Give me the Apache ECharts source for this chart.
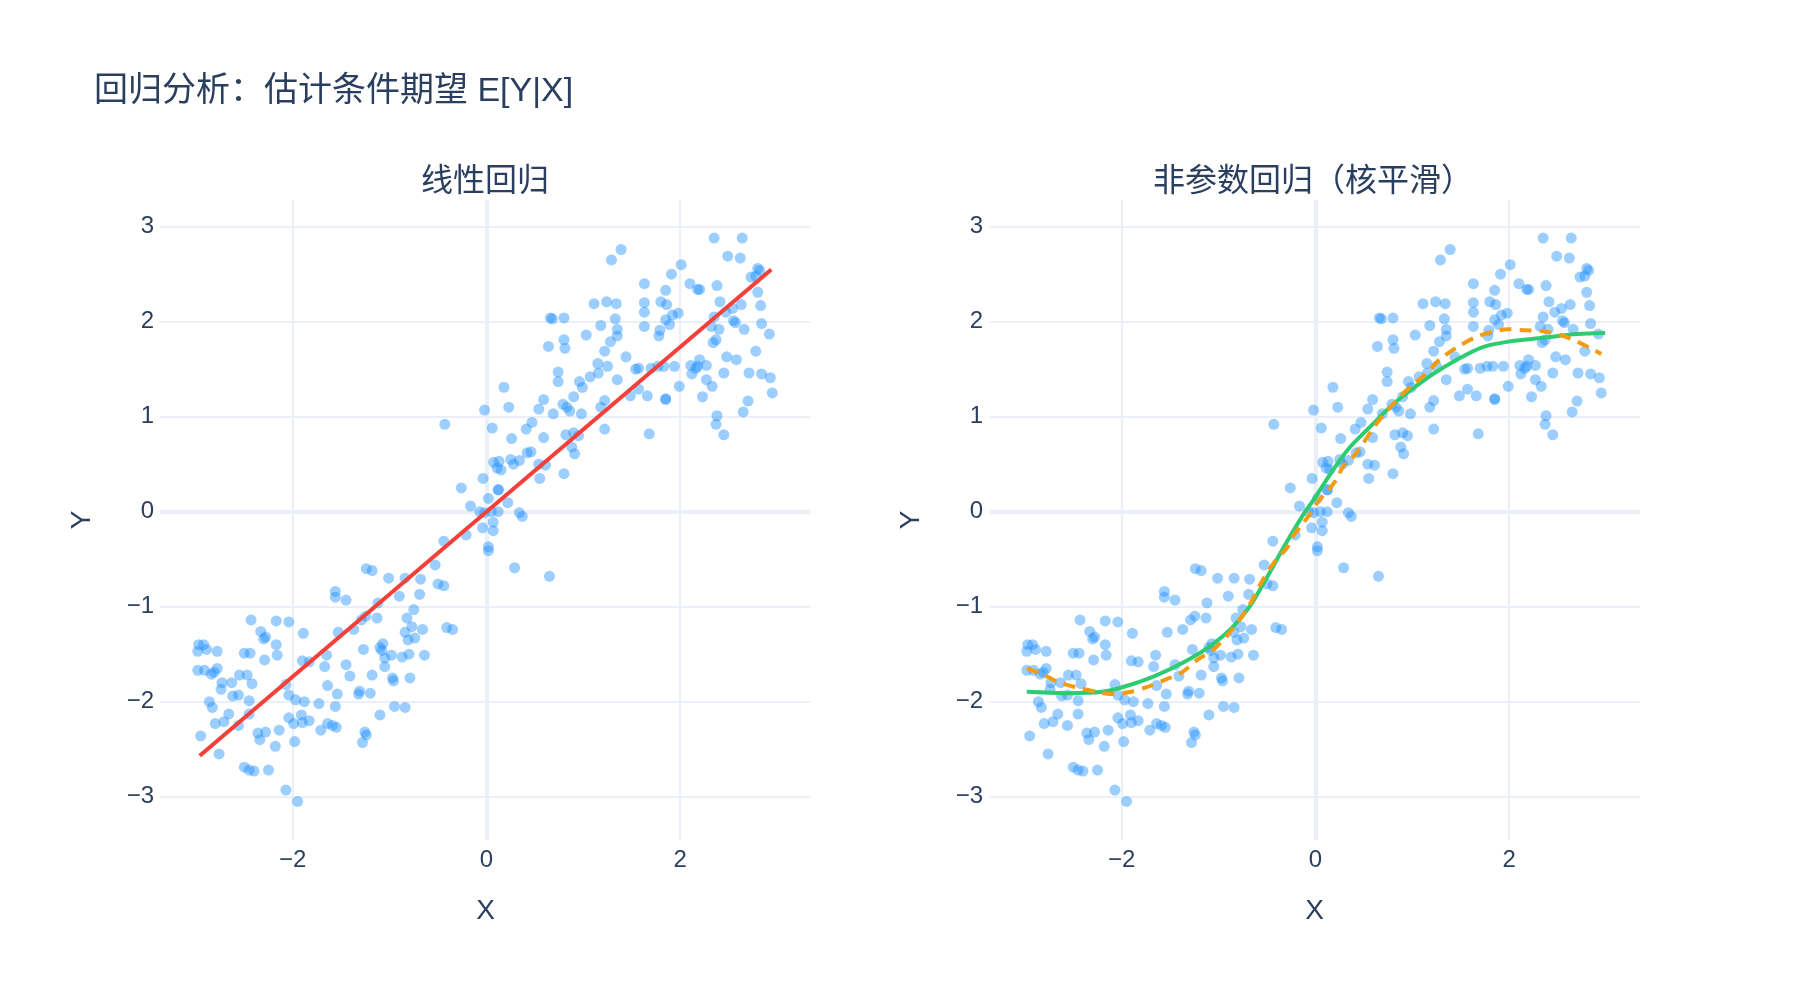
<!DOCTYPE html>
<html>
<head>
<meta charset="utf-8">
<title>回归分析</title>
<script src="https://cdn.jsdelivr.net/npm/echarts@6.0.0/dist/echarts.min.js"></script>
<style>
  html, body { margin: 0; padding: 0; background: #fff; }
  #chart { width: 1800px; height: 1000px; }
</style>
</head>
<body>
<div id="chart"></div>
<script>
// 样本点 (X, Y)，按区域从图上读出
const sampleX = [
  // x < -1.5
  -1.56,-1.56,-2.43,-2.17,-2.04,-1.89,-2.33,-2.30,-2.28,-2.17,
  -2.16,-2.29,-2.97,-2.92,-2.98,-2.89,-2.78,-2.50,-2.44,-1.90,
  -1.83,-1.65,-1.53,-2.98,-2.91,-2.84,-2.81,-2.78,-2.73,-2.74,
  -2.63,-2.55,-2.47,-2.42,-2.62,-2.56,-2.45,-2.86,-2.83,-2.07,
  -2.04,-1.97,-1.88,-1.73,-1.67,-1.64,-1.56,-1.54,-2.80,-2.71,
  -2.66,-2.56,-2.45,-2.95,-2.76,-2.36,-2.34,-2.28,-2.14,-2.18,
  -2.04,-1.99,-1.91,-1.90,-1.83,-1.98,-1.71,-1.64,-1.59,-1.55,
  -2.50,-2.45,-2.40,-2.25,-2.07,-1.95,
  // -1.5 .. 0
  -0.43,-0.26,-0.165,-0.21,-0.44,-0.53,-0.50,-0.44,-0.68,-0.69,
  -0.84,-0.90,-1.01,-1.24,-1.18,-1.45,-1.12,-0.75,-0.82,-1.13,
  -1.245,-1.29,-1.37,-0.77,-0.66,-0.84,-0.41,-0.35,-0.74,-0.81,
  -1.07,-1.10,-1.08,-0.98,-1.05,-1.27,-0.87,-0.80,-0.64,-1.45,
  -1.05,-1.18,-1.41,-0.97,-0.96,-0.79,-1.32,-1.31,-1.20,-0.95,
  -0.84,-1.10,-1.255,-1.24,-1.28,
  // 0 .. 1.4
  1.11,1.24,1.34,0.66,0.68,0.80,1.18,1.33,1.35,1.03,
  0.64,0.80,0.81,1.28,1.22,1.35,1.15,1.155,1.25,1.35,
  0.74,0.74,0.96,0.99,1.07,0.90,0.18,0.59,-0.02,0.23,
  0.54,0.69,0.79,0.83,0.86,0.98,1.22,1.18,0.06,0.47,
  0.41,0.26,0.59,0.82,0.90,0.95,1.22,0.88,0.91,0.075,
  0.13,0.11,0.15,0.25,0.28,0.34,0.42,0.46,0.54,0.61,
  0.55,0.80,-0.035,0.12,0.125,0.02,0.22,-0.07,-0.02,0.05,
  0.12,0.34,0.37,-0.04,0.07,0.07,0.02,0.02,0.29,0.65,
  // x > 1.4
  1.39,1.29,2.35,2.64,2.49,2.62,2.01,1.91,2.80,2.82,
  2.73,2.78,1.63,1.85,2.10,2.18,2.20,2.38,2.80,1.63,
  1.63,1.80,1.86,2.41,2.63,2.83,2.54,2.47,1.98,1.92,
  1.85,1.89,1.79,1.78,1.63,2.35,2.32,2.40,2.55,2.57,
  2.66,2.84,2.92,2.37,2.34,2.78,1.44,1.54,1.57,1.70,
  1.77,1.83,1.94,2.11,2.16,2.18,2.27,2.20,2.48,2.58,
  2.12,2.45,2.71,2.84,2.93,1.57,1.485,1.66,1.85,1.85,
  1.99,2.23,2.27,2.33,2.95,2.70,2.65,2.38,2.37,2.45,
  1.68
];
const sampleY = [
  -0.84,-0.90,-1.14,-1.15,-1.16,-1.28,-1.26,-1.34,-1.32,-1.40,
  -1.51,-1.56,-1.40,-1.40,-1.47,-1.45,-1.47,-1.49,-1.49,-1.57,
  -1.58,-1.51,-1.27,-1.67,-1.67,-1.71,-1.69,-1.65,-1.80,-1.87,
  -1.80,-1.72,-1.72,-1.81,-1.94,-1.93,-1.99,-2.00,-2.06,-1.82,
  -1.93,-1.98,-2.00,-2.02,-1.63,-1.83,-2.05,-1.92,-2.23,-2.21,
  -2.13,-2.25,-2.13,-2.36,-2.55,-2.33,-2.40,-2.32,-2.30,-2.47,
  -2.17,-2.23,-2.14,-2.22,-2.20,-2.42,-2.30,-2.23,-2.25,-2.27,
  -2.69,-2.72,-2.73,-2.72,-2.93,-3.05,

  0.92,0.25,0.06,-0.245,-0.31,-0.56,-0.76,-0.78,-0.71,-0.87,
  -0.70,-0.89,-0.70,-0.60,-0.62,-0.93,-0.96,-1.03,-1.12,-1.12,
  -1.10,-1.14,-1.24,-1.21,-1.24,-1.27,-1.22,-1.24,-1.33,-1.35,
  -1.39,-1.43,-1.46,-1.51,-1.54,-1.45,-1.53,-1.50,-1.51,-1.61,
  -1.63,-1.72,-1.73,-1.75,-1.78,-1.75,-1.92,-1.89,-1.91,-2.05,
  -2.06,-2.14,-2.32,-2.35,-2.43,

  2.19,2.21,2.19,2.04,2.03,2.04,1.96,2.03,1.92,1.86,
  1.74,1.81,1.72,1.79,1.69,1.85,1.56,1.46,1.53,1.39,
  1.47,1.37,1.37,1.31,1.42,1.21,1.31,1.18,1.07,1.10,
  1.08,1.03,1.13,1.10,1.06,1.03,1.17,1.10,0.88,0.94,
  0.87,0.77,0.78,0.81,0.83,0.80,0.87,0.68,0.61,0.52,
  0.53,0.46,0.44,0.55,0.50,0.54,0.62,0.63,0.50,0.49,
  0.35,0.40,0.35,0.23,0.23,0.14,0.095,0.0,-0.01,0.0,
  0.0,-0.01,-0.05,-0.17,-0.11,-0.20,-0.37,-0.41,-0.59,-0.68,

  2.76,2.65,2.88,2.88,2.69,2.67,2.60,2.50,2.56,2.54,
  2.47,2.48,2.40,2.33,2.40,2.34,2.34,2.38,2.31,2.20,
  2.10,2.21,2.18,2.21,2.18,2.17,2.14,2.10,2.09,2.07,
  2.02,1.97,1.91,1.85,1.95,2.05,1.95,1.92,2.01,1.99,
  1.92,1.98,1.87,1.81,1.78,1.69,1.63,1.50,1.51,1.51,
  1.53,1.53,1.53,1.54,1.51,1.53,1.54,1.60,1.63,1.60,
  1.45,1.46,1.46,1.45,1.41,1.29,1.22,1.22,1.19,1.18,
  1.32,1.21,1.39,1.32,1.25,1.165,1.05,1.01,0.92,0.81,
  0.82
];

// 线性回归拟合线
const linearX = [-2.96, 2.94];
const linearY = [-2.57, 2.55];

// 核平滑（较宽带宽，实线）
const smoothX = [-2.98,-2.55,-2.20,-1.97,-1.66,-1.35,-1.08,-0.86,-0.68,-0.50,-0.325,-0.15,
                 0.01,0.165,0.34,0.57,0.79,1.01,1.23,1.46,1.72,1.99,2.35,2.70,2.99];
const smoothY = [-1.895,-1.91,-1.895,-1.84,-1.73,-1.58,-1.41,-1.22,-1.00,-0.69,-0.37,-0.07,
                 0.17,0.415,0.66,0.90,1.12,1.30,1.46,1.60,1.73,1.79,1.83,1.87,1.88];

// 核平滑（较窄带宽，虚线）
const kernelX = [-2.98,-2.82,-2.64,-2.46,-2.24,-2.11,-1.93,-1.75,-1.53,-1.39,-1.22,-1.04,-0.86,-0.68,
                 -0.55,-0.41,-0.30,-0.24,-0.15,-0.06,0.03,0.12,0.21,0.30,0.39,0.48,0.61,0.74,
                 0.88,1.01,1.15,1.28,1.46,1.64,1.81,1.99,2.17,2.35,2.53,2.70,2.86,2.95];
const kernelY = [-1.65,-1.71,-1.80,-1.85,-1.90,-1.92,-1.90,-1.85,-1.76,-1.70,-1.56,-1.44,-1.24,-0.98,
                 -0.73,-0.51,-0.39,-0.27,-0.15,-0.03,0.11,0.21,0.33,0.50,0.58,0.70,0.90,1.06,
                 1.22,1.34,1.46,1.60,1.73,1.83,1.89,1.92,1.91,1.90,1.86,1.79,1.71,1.66];

const xTicks = [-2, 0, 2];
const yTicks = [-3, -2, -1, 0, 1, 2, 3];

const textColor = '#2a3f5f';
const gridColor = '#EBF0F8';
const fontFamily = '"Liberation Sans", "Noto Sans CJK SC", sans-serif';

const zip = (xs, ys) => xs.map((x, i) => [x, ys[i]]);
const fmt = v => (v < 0 ? '\u2212' + Math.abs(v) : String(v));

const chart = echarts.init(document.getElementById('chart'));

const xAxisFor = (gridIndex) => ({
    type: 'value',
    gridIndex: gridIndex,
    min: -3.37,
    max: 3.35,
    name: 'X',
    nameLocation: 'middle',
    nameGap: 57,
    nameTextStyle: { fontSize: 28, color: textColor, fontFamily: fontFamily },
    axisLine: { show: false },
    axisTick: { show: false, customValues: xTicks },
    axisLabel: { customValues: xTicks, fontSize: 24, color: textColor, margin: 8, fontFamily: fontFamily, formatter: fmt },
    splitLine: { show: true, lineStyle: { color: gridColor, width: 2 } }
});

const yAxisFor = (gridIndex) => ({
    type: 'value',
    gridIndex: gridIndex,
    min: -3.456,
    max: 3.281,
    name: 'Y',
    nameLocation: 'middle',
    nameGap: 64,
    nameTextStyle: { fontSize: 28, color: textColor, fontFamily: fontFamily },
    axisLine: { show: false },
    axisTick: { show: false, customValues: yTicks },
    axisLabel: { customValues: yTicks, fontSize: 24, color: textColor, margin: 6, fontFamily: fontFamily, formatter: fmt },
    splitLine: { show: true, lineStyle: { color: gridColor, width: 2 } }
});

// 零线（比网格线粗）
const zeroLines = {
    silent: true,
    symbol: 'none',
    z: 1,
    label: { show: false },
    lineStyle: { color: gridColor, width: 4, type: 'solid' },
    emphasis: { disabled: true },
    data: [{ xAxis: 0 }, { yAxis: 0 }]
};

const scatterStyle = { color: 'rgba(30,144,255,0.55)' };

const option = {
    animation: false,
    backgroundColor: '#fff',
    title: [
        {
            text: '回归分析：估计条件期望 E[Y|X]',
            left: 89,
            top: 70,
            textStyle: { fontSize: 34, fontWeight: 'normal', color: textColor, fontFamily: fontFamily }
        },
        {
            text: '线性回归',
            left: 480,
            top: 161,
            textAlign: 'center',
            textStyle: { fontSize: 32, fontWeight: 'normal', color: textColor, fontFamily: fontFamily }
        },
        {
            text: '非参数回归（核平滑）',
            left: 1308,
            top: 161,
            textAlign: 'center',
            textStyle: { fontSize: 32, fontWeight: 'normal', color: textColor, fontFamily: fontFamily }
        }
    ],
    grid: [
        { left: 160, top: 200, width: 651, height: 640 },
        { left: 989, top: 200, width: 651, height: 640 }
    ],
    xAxis: [xAxisFor(0), xAxisFor(1)],
    yAxis: [yAxisFor(0), yAxisFor(1)],
    series: [
        {
            type: 'scatter',
            xAxisIndex: 0,
            yAxisIndex: 0,
            symbolSize: 11,
            itemStyle: scatterStyle,
            data: zip(sampleX, sampleY),
            markLine: zeroLines
        },
        {
            type: 'line',
            xAxisIndex: 0,
            yAxisIndex: 0,
            showSymbol: false,
            lineStyle: { color: '#f5403a', width: 4 },
            data: zip(linearX, linearY)
        },
        {
            type: 'scatter',
            xAxisIndex: 1,
            yAxisIndex: 1,
            symbolSize: 11,
            itemStyle: scatterStyle,
            data: zip(sampleX, sampleY),
            markLine: zeroLines
        },
        {
            type: 'line',
            xAxisIndex: 1,
            yAxisIndex: 1,
            showSymbol: false,
            smooth: 0.3,
            lineStyle: { color: '#2ecc71', width: 4 },
            data: zip(smoothX, smoothY)
        },
        {
            type: 'line',
            xAxisIndex: 1,
            yAxisIndex: 1,
            showSymbol: false,
            smooth: 0.3,
            lineStyle: { color: '#f39c12', width: 4, type: [12, 8] },
            data: zip(kernelX, kernelY)
        }
    ]
};

chart.setOption(option);
</script>
</body>
</html>
